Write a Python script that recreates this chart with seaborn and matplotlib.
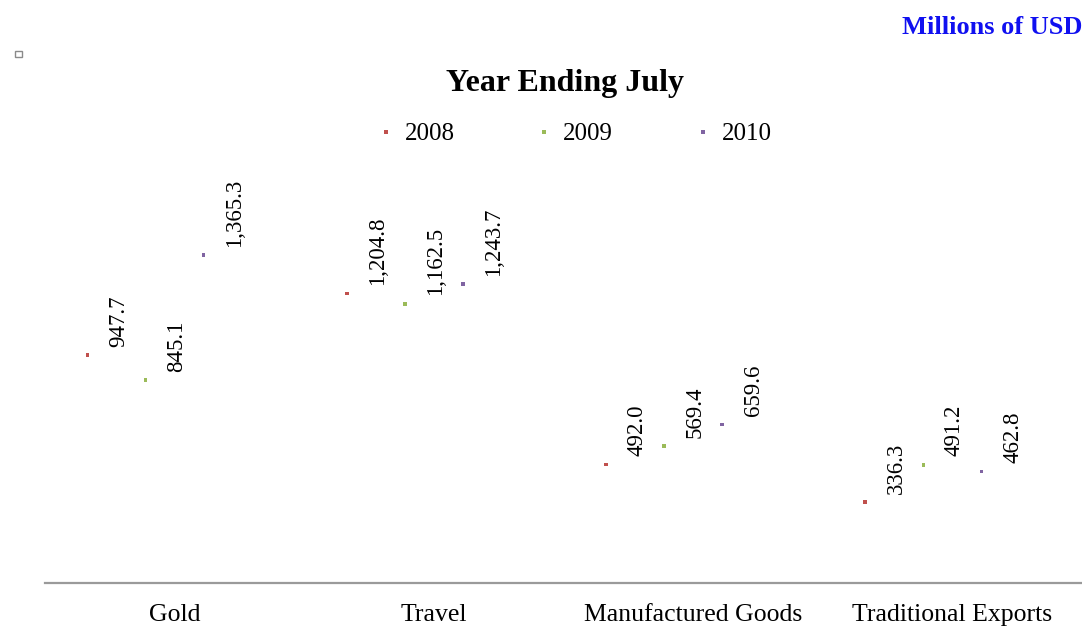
import matplotlib
matplotlib.use("Agg")
import matplotlib.pyplot as plt
from matplotlib.patches import Rectangle
from matplotlib.lines import Line2D
import seaborn as sns
import pandas as pd

categories = ["Gold", "Travel", "Manufactured Goods", "Traditional Exports"]
years = ["2008", "2009", "2010"]
values_2008 = [947.7, 1204.8, 492.0, 336.3]
values_2009 = [845.1, 1162.5, 569.4, 491.2]
values_2010 = [1365.3, 1243.7, 659.6, 462.8]
colors = ["#C0504D", "#9BBB59", "#8064A2"]

series = [values_2008, values_2009, values_2010]

# Each year occupies a slot of width `slot` inside the category band;
# the point sits at the left edge of its slot, the label at the slot centre.
slot = 0.224
rows = []
for j, (yr, vals) in enumerate(zip(years, series)):
    for i, (cat, v) in enumerate(zip(categories, vals)):
        left = i - 1.5 * slot + j * slot
        rows.append({"category": cat, "year": yr, "value": v,
                     "xpos": left, "xlabel": left + slot / 2})
df = pd.DataFrame(rows)

sns.set_theme(style="white")
plt.rcParams["font.family"] = ["Liberation Serif", "DejaVu Serif"]
plt.rcParams["text.color"] = "black"
plt.rcParams["xtick.color"] = "black"

fig = plt.figure(figsize=(10.82, 6.26), dpi=100)
ax = fig.add_axes([45 / 1082, 1 - 582.7 / 626, 1 - 45 / 1082, 384 / 626])

sns.scatterplot(data=df, x="xpos", y="value", hue="year", palette=colors,
                marker="s", s=7, linewidth=0, ax=ax, legend=False)

for _, r in df.iterrows():
    ax.annotate(f"{r['value']:,.1f}", (r["xlabel"], r["value"]),
                xytext=(1.5, 6), textcoords="offset points",
                rotation=90, ha="center", va="bottom",
                fontsize=16.5, color="black")

ax.set_xlim(-0.5, len(categories) - 0.5)
ax.set_ylim(0, 1600)
ax.set_xticks(range(len(categories)))
ax.set_xticklabels(categories, fontsize=18.5, color="black")
ax.tick_params(axis="x", length=0, pad=15)
ax.set_yticks([])
ax.set_xlabel("")
ax.set_ylabel("")
for side in ["left", "right", "top"]:
    ax.spines[side].set_visible(False)
ax.spines["bottom"].set_color("#9a9a9a")
ax.spines["bottom"].set_linewidth(1.6)

handles = [Line2D([], [], marker="s", linestyle="", markersize=2.6,
                  markerfacecolor=c, markeredgewidth=0) for c in colors]
fig.legend(handles, years, loc="center", bbox_to_anchor=(575 / 1082, 1 - 134 / 626),
           ncol=3, frameon=False, fontsize=18, handlelength=0.6,
           handletextpad=0.45, columnspacing=3.3, labelcolor="black")

fig.text(565 / 1082, 1 - 84 / 626, "Year Ending July", ha="center", va="center",
         fontsize=23, fontweight="bold", color="black")
fig.text(1.0, 1 - 27 / 626, "Millions of USD", ha="right", va="center",
         fontsize=19, fontweight="bold", color="#1010F0")

fig.patches.append(Rectangle((15 / 1082, 1 - 57 / 626), 7 / 1082, 6 / 626,
                             transform=fig.transFigure, facecolor="white",
                             edgecolor="#8a8a8a", linewidth=1.0))

fig.savefig("out.png", dpi=100)
